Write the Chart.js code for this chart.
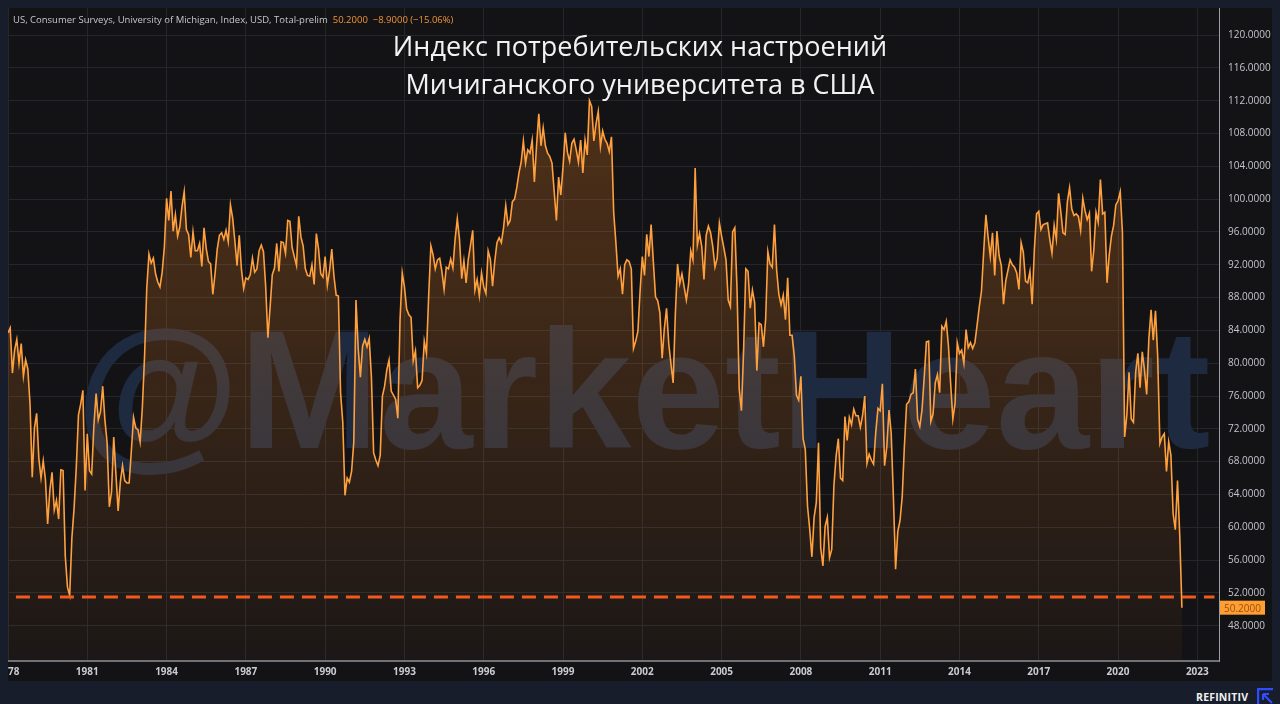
<!DOCTYPE html>
<html>
<head>
<meta charset="utf-8">
<script src="https://cdn.jsdelivr.net/npm/chart.js@4.4.0/dist/chart.umd.min.js"></script>
<style>
  html, body { margin: 0; padding: 0; }
  body { width: 1280px; height: 704px; background: #171d2b; position: relative; overflow: hidden; font-family: "Open Sans", sans-serif; }
  #panel { position: absolute; left: 8px; top: 8px; width: 1264px; height: 673px; background: #131316; overflow: hidden; }
  #chart { position: absolute; left: 0; top: 0; }
  #header { position: absolute; left: 5px; top: 5px; font-size: 9.5px; color: #c5c7cc; white-space: nowrap; }
  #header .val { color: #f0943a; margin-left: 5px; }
  #title { position: absolute; left: 0; width: 1264px; top: 19px; text-align: center; color: #f2f2f2; font-size: 27px; line-height: 38px; }
  #brand { position: absolute; left: 1196px; top: 690px; color: #f0f0f0; font: bold 10.5px "Open Sans", sans-serif; letter-spacing: 0.2px; }
  #logo { position: absolute; left: 1257px; top: 688px; }
</style>
</head>
<body>
<div id="panel">
  <canvas id="chart" width="1264" height="673"></canvas>
  <div id="header">US, Consumer Surveys, University of Michigan, Index, USD, Total-prelim<span class="val">50.2000 &nbsp;−8.9000 (−15.06%)</span></div>
  <div id="title">Индекс потребительских настроений<br>Мичиганского университета в США</div>
</div>
<div id="brand">REFINITIV</div>
<svg id="logo" width="16" height="16" viewBox="0 0 16 16">
  <path d="M1 16 V1 H16" fill="none" stroke="#2f4cff" stroke-width="2.4"/>
  <path d="M6 6 L15 15 M6 6 H12 M6 6 V12" fill="none" stroke="#2f4cff" stroke-width="2.2"/>
</svg>
<script>
// monthly values, Jan 1978 .. Jun 2022 (prelim readings)
const startYear = 1978;
const sentiment = [
  83.7, 84.3, 78.8, 81.6, 82.9, 80.0, 82.4, 78.4, 80.4, 79.3, 75.0, 66.1,
  72.1, 73.9, 68.4, 66.0, 68.1, 65.8, 60.4, 64.5, 66.7, 62.1, 63.3, 61.0,
  67.0, 66.9, 56.5, 52.7, 51.7, 58.7, 62.3, 67.3, 73.7, 75.0, 76.7, 64.5,
  71.4, 66.9, 66.5, 72.4, 76.3, 73.1, 74.1, 77.2, 73.1, 70.3, 62.5, 64.3,
  71.0, 66.5, 62.0, 65.5, 67.5, 65.7, 65.4, 65.4, 69.3, 73.4, 72.1, 71.9,
  70.4, 74.6, 80.8, 89.1, 93.3, 92.2, 92.8, 90.9, 89.9, 89.3, 91.1, 94.2,
  100.1, 97.4, 101.0, 96.1, 98.1, 95.5, 96.6, 99.1, 100.9, 96.3, 95.7, 92.9,
  96.0, 93.7, 93.7, 94.6, 91.8, 96.5, 94.0, 92.4, 92.1, 88.4, 90.9, 93.9,
  95.6, 95.9, 95.1, 96.2, 94.8, 99.3, 97.7, 94.9, 91.9, 95.6, 91.4, 89.1,
  90.4, 90.2, 90.8, 92.8, 91.1, 91.5, 93.7, 94.4, 93.6, 89.3, 83.1, 86.8,
  90.8, 91.6, 94.6, 91.2, 94.8, 94.7, 93.4, 97.4, 97.3, 94.1, 93.0, 91.9,
  97.9, 95.4, 94.3, 91.5, 90.7, 90.6, 92.0, 89.6, 95.8, 93.9, 90.9, 90.5,
  93.0, 89.5, 91.3, 93.9, 90.6, 88.3, 88.2, 76.4, 72.8, 63.9, 66.0, 65.5,
  66.8, 70.4, 87.7, 81.8, 78.3, 82.1, 82.9, 82.0, 83.0, 78.3, 69.1, 68.2,
  67.5, 68.8, 76.0, 77.2, 79.2, 80.4, 76.6, 76.1, 75.6, 73.3, 85.3, 91.0,
  89.3, 86.6, 85.9, 85.6, 80.3, 81.5, 77.0, 77.3, 77.9, 82.7, 81.2, 88.2,
  94.3, 93.2, 91.5, 92.6, 92.8, 91.2, 89.0, 91.7, 91.5, 92.7, 91.6, 95.1,
  97.6, 95.1, 90.3, 92.5, 89.8, 92.7, 94.4, 96.2, 88.9, 90.2, 88.2, 91.0,
  89.3, 88.5, 93.7, 92.7, 89.4, 92.4, 94.7, 95.3, 94.7, 96.5, 99.2, 96.9,
  97.4, 99.7, 100.0, 101.4, 103.2, 104.5, 107.1, 104.4, 106.0, 105.6, 107.2, 102.1,
  106.6, 110.4, 106.5, 108.7, 106.5, 105.6, 105.2, 104.4, 100.9, 97.4, 102.7, 100.5,
  103.9, 108.1, 105.7, 104.6, 106.8, 107.3, 106.0, 104.5, 107.2, 103.2, 107.2, 105.4,
  112.0, 111.3, 107.1, 109.2, 110.7, 106.4, 108.3, 107.3, 106.8, 105.8, 107.6, 98.4,
  94.7, 90.6, 91.5, 88.4, 92.0, 92.6, 92.4, 91.5, 81.8, 82.7, 83.9, 88.8,
  93.0, 90.7, 95.7, 93.0, 96.9, 92.4, 88.1, 87.6, 86.1, 80.6, 84.2, 86.7,
  82.4, 79.9, 77.6, 86.0, 92.1, 89.7, 90.9, 89.3, 87.7, 89.6, 93.7, 92.6,
  103.8, 94.4, 95.8, 94.2, 90.2, 95.6, 96.7, 95.9, 94.2, 91.7, 92.8, 97.1,
  95.5, 94.1, 92.6, 87.7, 86.9, 96.0, 96.5, 89.1, 76.9, 74.2, 81.6, 91.5,
  91.2, 86.7, 88.9, 87.4, 79.1, 84.9, 84.7, 82.0, 85.4, 93.6, 92.1, 91.7,
  96.9, 91.3, 88.4, 87.1, 88.3, 85.3, 90.4, 83.4, 83.4, 80.9, 76.1, 75.5,
  78.4, 70.8, 69.5, 62.6, 59.8, 56.4, 61.2, 63.0, 70.3, 57.5, 55.3, 60.1,
  61.2, 56.3, 57.3, 65.1, 68.7, 70.8, 66.0, 65.7, 73.5, 70.6, 73.4, 72.5,
  74.4, 73.6, 73.6, 72.2, 73.6, 76.0, 67.8, 68.9, 68.2, 67.7, 71.6, 74.5,
  74.2, 77.5, 67.5, 69.8, 74.3, 71.5, 63.7, 54.9, 59.5, 60.8, 63.7, 69.9,
  75.0, 75.3, 76.2, 76.4, 79.3, 73.2, 72.3, 74.3, 78.3, 82.6, 82.7, 72.9,
  73.8, 77.6, 78.6, 76.4, 84.5, 84.1, 85.1, 82.1, 77.5, 73.2, 75.1, 82.5,
  81.2, 81.6, 80.0, 84.1, 81.9, 82.5, 81.8, 82.5, 84.6, 86.9, 88.8, 93.6,
  98.1, 95.4, 93.0, 95.9, 90.7, 96.1, 93.1, 91.9, 87.2, 90.0, 91.3, 92.6,
  92.0, 91.7, 91.0, 89.0, 94.7, 93.5, 90.0, 89.8, 91.2, 87.2, 93.8, 98.2,
  98.5, 96.3, 96.9, 97.0, 97.1, 95.1, 93.4, 96.8, 95.1, 100.7, 98.5, 95.9,
  95.7, 99.7, 101.4, 98.8, 98.0, 98.2, 97.9, 96.2, 100.1, 98.6, 97.5, 98.3,
  91.2, 93.8, 98.4, 97.2, 102.4, 98.2, 98.4, 89.8, 93.2, 95.5, 96.8, 99.3,
  99.8, 100.9, 95.9, 71.0, 73.7, 78.9, 73.2, 72.8, 78.9, 81.2, 77.0, 81.4,
  79.2, 76.2, 83.0, 86.5, 82.8, 86.4, 80.8, 70.2, 71.0, 71.4, 66.8, 70.4,
  68.8, 61.7, 59.7, 65.7, 59.1, 50.2
];
const yearTicks = [1978, 1981, 1984, 1987, 1990, 1993, 1996, 1999, 2002, 2005, 2008, 2011, 2014, 2017, 2020, 2023];
const valueTicks = [48, 52, 56, 60, 64, 68, 72, 76, 80, 84, 88, 92, 96, 100, 104, 108, 112, 116, 120];
const supportLevel = 51.5;
const lastValue = 50.2;

const points = sentiment.map((v, i) => ({ x: startYear + i / 12, y: v }));

const watermark = {
  id: 'watermark',
  beforeDatasetsDraw(chart) {
    const c = chart.ctx;
    c.save();
    c.font = 'bold 168px "Liberation Sans", Arial, sans-serif';
    c.fillStyle = '#1d2a3f';
    c.textAlign = 'center';
    c.textBaseline = 'alphabetic';
    c.fillText('@MarketHeart', 635, 440);
    c.restore();
  }
};

const lastLabel = {
  id: 'lastLabel',
  afterDraw(chart) {
    const c = chart.ctx;
    const y = chart.scales.y.getPixelForValue(lastValue);
    const x = chart.chartArea.right + 1;
    c.save();
    c.fillStyle = '#ff9f33';
    c.fillRect(x, y - 7, 45, 14);
    c.fillStyle = '#9c4e0c';
    c.font = '10px "Open Sans", sans-serif';
    c.textBaseline = 'middle';
    c.fillText(lastValue.toFixed(4), x + 4, y + 1);
    c.restore();
  }
};

new Chart(document.getElementById('chart'), {
  type: 'line',
  data: {
    datasets: [
      {
        data: [{ x: 1978.3, y: supportLevel }, { x: 2023.65, y: supportLevel }],
        borderColor: '#f25a1d',
        borderWidth: 3,
        borderDash: [14, 8],
        pointRadius: 0,
        fill: false,
        order: 0
      },
      {
        data: points,
        borderColor: '#ffa03e',
        borderWidth: 1.6,
        pointRadius: 0,
        tension: 0,
        fill: 'start',
        order: 1,
        backgroundColor: (ctx) => {
          const area = ctx.chart.chartArea;
          if (!area) return 'rgba(255,137,34,0.15)';
          const g = ctx.chart.ctx.createLinearGradient(0, area.top, 0, area.bottom);
          g.addColorStop(0, 'rgba(255,137,34,0.28)');
          g.addColorStop(0.5, 'rgba(255,137,34,0.18)');
          g.addColorStop(1, 'rgba(255,137,34,0.04)');
          return g;
        }
      }
    ]
  },
  options: {
    responsive: false,
    animation: false,
    layout: { padding: 0, autoPadding: false },
    plugins: { legend: { display: false }, tooltip: { enabled: false } },
    scales: {
      x: {
        type: 'linear',
        min: 1978,
        max: 2023.82,
        afterBuildTicks: (s) => { s.ticks = yearTicks.map(v => ({ value: v })); },
        afterFit: (s) => { s.height = 20; s.paddingLeft = 0; s.paddingRight = 0; },
        grid: { color: '#24262b', drawTicks: false },
        border: { color: '#6e7178', width: 2 },
        ticks: {
          autoSkip: false,
          maxRotation: 0,
          padding: 5,
          color: '#c9cbd0',
          font: { family: '"Open Sans", sans-serif', size: 10, weight: 'bold' },
          callback: (v) => String(v)
        }
      },
      y: {
        position: 'right',
        min: 43.7,
        max: 123.3,
        afterBuildTicks: (s) => { s.ticks = valueTicks.map(v => ({ value: v })); },
        afterFit: (s) => { s.width = 53; s.paddingTop = 0; s.paddingBottom = 0; },
        grid: { color: '#24262b', drawTicks: false },
        border: { color: '#9a9da3', width: 1 },
        ticks: {
          padding: 9,
          color: '#c3c6cc',
          font: { family: '"Open Sans", sans-serif', size: 10 },
          callback: (v) => Number(v).toFixed(4)
        }
      }
    }
  },
  plugins: [watermark, lastLabel]
});
</script>
</body>
</html>
